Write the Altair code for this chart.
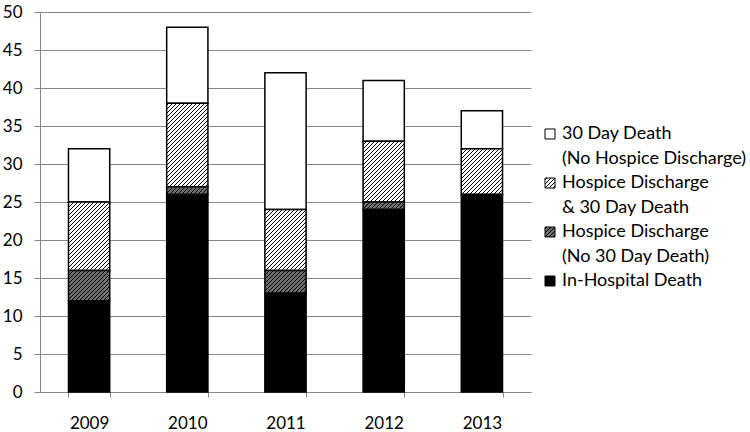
import altair as alt
import pandas as pd

# ---- data ----
years = ["2009", "2010", "2011", "2012", "2013"]
in_hospital = [12, 26, 13, 24, 26]
hospice_no_30 = [4, 1, 3, 1, 0]
hospice_and_30 = [9, 11, 8, 8, 6]
day30_no_hospice = [7, 10, 18, 8, 5]

categories = [
    "30 Day Death\n(No Hospice Discharge)",
    "Hospice Discharge\n& 30 Day Death",
    "Hospice Discharge\n(No 30 Day Death)",
    "In-Hospital Death",
]
# stacking order: bottom first
stack_order = {categories[3]: 0, categories[2]: 1, categories[1]: 2, categories[0]: 3}
series = {
    categories[0]: day30_no_hospice,
    categories[1]: hospice_and_30,
    categories[2]: hospice_no_30,
    categories[3]: in_hospital,
}
fills = ["white", "url(#hatchLight)", "url(#hatchDark)", "black"]

rows = []
for cat, vals in series.items():
    for y, v in zip(years, vals):
        rows.append({"year": y, "category": cat, "value": v, "ord": stack_order[cat]})
df = pd.DataFrame(rows)

FONT = "Lato"
GRID = "#868686"

chart = (
    alt.Chart(df)
    .mark_bar(stroke="black", strokeWidth=1.5)
    .encode(
        x=alt.X(
            "year:N",
            title=None,
            scale=alt.Scale(paddingInner=0.58, paddingOuter=0.29),
            axis=alt.Axis(
                labelAngle=0,
                tickBand="extent",
                tickSize=5,
                labelPadding=18.5,
                domainColor=GRID,
                tickColor=GRID,
                grid=False,
            ),
        ),
        y=alt.Y(
            "value:Q",
            title=None,
            stack="zero",
            scale=alt.Scale(domain=[0, 50], nice=False),
            axis=alt.Axis(
                values=list(range(0, 51, 5)),
                tickSize=6,
                labelPadding=12,
                domainColor=GRID,
                tickColor=GRID,
                gridColor=GRID,
                grid=True,
            ),
        ),
        color=alt.Color(
            "category:N",
            scale=alt.Scale(domain=categories, range=fills),
            legend=alt.Legend(
                title=None,
                orient="none",
                legendX=501,
                legendY=113,
                symbolType="square",
                symbolSize=100,
                symbolStrokeColor="black",
                symbolStrokeWidth=1,
                labelFont=FONT,
                labelFontSize=18,
                labelColor="black",
                labelOffset=3,
                labelLimit=300,
                rowPadding=6,
                labelExpr="split(datum.label, '\\n')",
            ),
        ),
        order=alt.Order("ord:Q", sort="ascending"),
    )
    .properties(
        width=491,
        height=380,
        padding={"left": 40, "top": 12, "right": 219, "bottom": 40},
        autosize=alt.AutoSizeParams(type="none"),
    )
    .configure(style={"guide-label": {"lineHeight": 24.5}})
    .configure_view(stroke=None)
    .configure_axis(
        labelFont=FONT,
        labelFontSize=17,
        labelColor="black",
        domainWidth=1,
        tickWidth=1,
        gridWidth=1,
    )
)

chart.save("out.html", embed_options={"renderer": "svg", "actions": False})

# hatch pattern definitions referenced by the fills above; the chart uses the whole page
defs = (
    '<style>html, body {margin: 0 !important; padding: 0 !important;}</style>'
    '<svg width="0" height="0" style="position:absolute;width:0;height:0" aria-hidden="true"><defs>'
    '<pattern id="hatchLight" patternUnits="userSpaceOnUse" width="4" height="4">'
    '<rect width="4" height="4" fill="white"/>'
    '<path d="M-1,1 l2,-2 M0,4 l4,-4 M3,5 l2,-2" stroke="black" stroke-width="1"/></pattern>'
    '<pattern id="hatchDark" patternUnits="userSpaceOnUse" width="4" height="4">'
    '<rect width="4" height="4" fill="#6e6e6e"/>'
    '<path d="M-1,1 l2,-2 M0,4 l4,-4 M3,5 l2,-2" stroke="black" stroke-width="1"/></pattern>'
    '</defs></svg>'
)
with open("out.html", encoding="utf-8") as f:
    html = f.read()
html = html.replace("<body>", "<body>" + defs, 1)
with open("out.html", "w", encoding="utf-8") as f:
    f.write(html)
